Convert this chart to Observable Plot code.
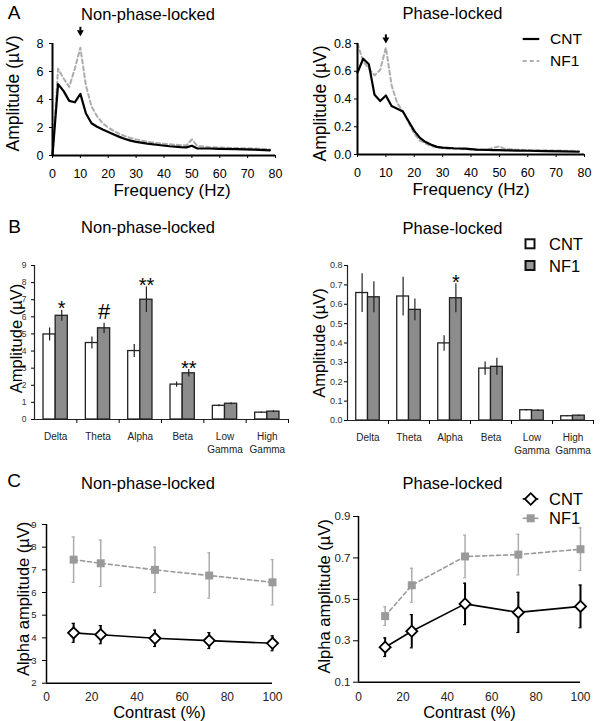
<!DOCTYPE html>
<html><head><meta charset="utf-8">
<script src="https://cdn.jsdelivr.net/npm/d3@7"></script>
<script src="https://cdn.jsdelivr.net/npm/@observablehq/plot@0.6"></script>
<style>
body{margin:0;background:#fff;}
#root{position:relative;width:600px;height:721px;font-family:"Liberation Sans",Arial,sans-serif;color:#000;overflow:hidden;background:#fff}
.t{position:absolute;white-space:nowrap;line-height:1;transform:translate(-50%,-50%)}
.lg{position:absolute;white-space:nowrap;line-height:1;transform:translateY(-50%)}
svg.leg{position:absolute;overflow:visible}
</style></head><body><div id="root"></div>
<script>
// ---------- Panel A: spectra ----------
const freq   = [0, 2, 4, 6, 8, 10, 12, 14, 16, 18, 20, 22, 24, 26, 28, 30, 34, 38, 42, 46, 48, 50, 52, 56, 60, 66, 72, 78];
const nplCnt = [0, 5.1, 4.6, 3.9, 3.8, 4.4, 3.0, 2.3, 2.05, 1.85, 1.68, 1.5, 1.33, 1.18, 1.06, 0.97, 0.85, 0.75, 0.66, 0.6, 0.58, 0.7, 0.5, 0.5, 0.48, 0.45, 0.42, 0.37];
const nplNf1 = [0, 6.2, 5.5, 4.9, 6.2, 7.7, 5.0, 3.5, 2.8, 2.3, 2.0, 1.75, 1.55, 1.38, 1.25, 1.15, 0.98, 0.88, 0.8, 0.74, 0.72, 1.15, 0.68, 0.6, 0.57, 0.53, 0.5, 0.45];
const plCnt  = [0.59, 0.69, 0.65, 0.43, 0.385, 0.425, 0.35, 0.33, 0.31, 0.24, 0.17, 0.12, 0.09, 0.07, 0.055, 0.05, 0.045, 0.042, 0.035, 0.033, 0.032, 0.031, 0.03, 0.028, 0.027, 0.025, 0.022, 0.02];
const plNf1  = [0.8, 0.67, 0.62, 0.57, 0.61, 0.77, 0.5, 0.37, 0.31, 0.23, 0.15, 0.1, 0.08, 0.06, 0.05, 0.045, 0.04, 0.038, 0.035, 0.035, 0.05, 0.058, 0.04, 0.035, 0.032, 0.03, 0.028, 0.025];
const alphaPeak = [10];

// ---------- Panel B: band amplitudes ----------
const bands = ["Delta", "Theta", "Alpha", "Beta", "Low\nGamma", "High\nGamma"];
const barNplCnt    = [4.97, 4.47, 4.0, 2.04, 0.8, 0.4];
const barNplCntErr = [0.38, 0.35, 0.38, 0.15, 0.06, 0.04];
const barNplNf1    = [6.06, 5.33, 7.0, 2.7, 0.92, 0.46];
const barNplNf1Err = [0.32, 0.3, 0.75, 0.22, 0.06, 0.06];
const barPlCnt     = [0.658, 0.64, 0.398, 0.268, 0.053, 0.022];
const barPlCntErr  = [0.1, 0.1, 0.04, 0.034, 0.004, 0.003];
const barPlNf1     = [0.636, 0.571, 0.631, 0.277, 0.051, 0.025];
const barPlNf1Err  = [0.08, 0.056, 0.075, 0.044, 0.004, 0.004];
const sigNpl = ["*", "#", "**", "**", "", ""];
const sigPl  = ["", "", "*", "", "", ""];

// ---------- Panel C: alpha vs contrast ----------
const contrast = [12, 24, 48, 72, 100];
const alphaNplCnt    = [4.22, 4.14, 3.98, 3.88, 3.76];
const alphaNplCntErr = [0.42, 0.4, 0.36, 0.35, 0.33];
const alphaNplNf1    = [7.45, 7.29, 7.0, 6.75, 6.45];
const alphaNplNf1Err = [1.0, 1.02, 1.0, 1.0, 1.0];
const alphaPlCnt     = [0.269, 0.346, 0.478, 0.437, 0.466];
const alphaPlCntErr  = [0.045, 0.08, 0.1, 0.097, 0.103];
const alphaPlNf1     = [0.419, 0.568, 0.707, 0.716, 0.742];
const alphaPlNf1Err  = [0.045, 0.082, 0.103, 0.098, 0.103];

// ---------- helpers ----------
const root = document.getElementById("root");
const FONT = '"Liberation Sans", Arial, Helvetica, sans-serif';
const baseStyle = {fontFamily: FONT, fontSize: "12px", background: "transparent", overflow: "visible", color: "#000"};
const GRAY_LINE = "#acacac";
const GRAY_BAR = "#8c8c8c";
const GRAY_PT = "#9a9a9a";

function place(el, left, top) {
  el.style.position = "absolute";
  el.style.left = left + "px";
  el.style.top = top + "px";
  root.appendChild(el);
}
function label(text, cx, cy, size) {
  const d = document.createElement("div");
  d.className = "t";
  d.textContent = text;
  d.style.left = cx + "px"; d.style.top = cy + "px"; d.style.fontSize = size + "px";
  root.appendChild(d);
}
function legText(text, x, cy, size) {
  const d = document.createElement("div");
  d.className = "lg";
  d.textContent = text;
  d.style.left = x + "px"; d.style.top = cy + "px"; d.style.fontSize = size + "px";
  root.appendChild(d);
}
function legSvg(x, y, w, h, inner) {
  const ns = "http://www.w3.org/2000/svg";
  const s = document.createElementNS(ns, "svg");
  s.setAttribute("class", "leg");
  s.setAttribute("width", w); s.setAttribute("height", h);
  s.style.left = x + "px"; s.style.top = y + "px";
  s.innerHTML = inner;
  root.appendChild(s);
}
// axis titles placed relative to the frame
function xTitle(text, dx, dy, size) {
  return Plot.text([text], {text: d => d, frameAnchor: "bottom", textAnchor: "middle", lineAnchor: "middle", dx, dy, fontSize: size});
}
function yTitle(text, dx, dy, size) {
  return Plot.text([text], {text: d => d, frameAnchor: "left", textAnchor: "middle", lineAnchor: "middle", rotate: -90, dx, dy, fontSize: size});
}

// ---------- A ----------
function spectrum(cnt, nf1, o) {
  const rows = freq.map((f, i) => ({f, cnt: cnt[i], nf1: nf1[i]}));
  return Plot.plot({
    width: 300, height: 200,
    marginLeft: o.ml, marginRight: o.mr, marginTop: 43, marginBottom: o.mb,
    style: baseStyle,
    x: {domain: [0, 80]},
    y: {domain: [0, o.yMax]},
    marks: [
      Plot.lineY(rows, {x: "f", y: "nf1", stroke: GRAY_LINE, strokeWidth: 2, strokeDasharray: "4,3"}),
      Plot.lineY(rows, {x: "f", y: "cnt", stroke: "#000", strokeWidth: 2.2}),
      Plot.ruleY([0], {strokeWidth: 2}),
      Plot.ruleX([0], {strokeWidth: 2}),
      Plot.axisX({ticks: d3.range(0, 81, 10), tickSize: 3, tickPadding: 11, fontSize: 12.5, label: null}),
      Plot.axisY({ticks: o.ticks, tickFormat: o.fmt, tickSize: 3, tickPadding: o.tp, fontSize: 12.5, label: null}),
      xTitle("Frequency (Hz)", o.xlDx, 35, 17),
      yTitle("Amplitude (µV)", o.ylDx, o.ylDy, 17.5),
      Plot.ruleX(alphaPeak, {x: d => d, y1: () => o.arrowTop, y2: () => o.arrowHead, strokeWidth: 2}),
      Plot.dot(alphaPeak, {x: d => d, y: () => o.arrowHead, symbol: "triangle2", rotate: 180, r: 3.3, fill: "#000"})
    ]
  });
}
place(spectrum(nplCnt, nplNf1, {ml: 52, mr: 25, mb: 45, yMax: 8, ticks: [0, 2, 4, 6, 8], fmt: d3.format("d"), tp: 6,
  xlDx: 8, ylDx: -39.5, ylDy: -6, arrowTop: 9.16, arrowHead: 8.8}), 0, 0);
place(spectrum(plCnt, plNf1, {ml: 57, mr: 16, mb: 46, yMax: 0.8, ticks: [0, 0.2, 0.4, 0.6, 0.8], fmt: d3.format(".1f"), tp: 3,
  xlDx: 0, ylDx: -37.5, ylDy: 4.5, arrowTop: 0.862, arrowHead: 0.828}), 300, 0);

// ---------- B ----------
function bars(cnt, cntErr, nf1, nf1Err, sig, o) {
  const rows = bands.map((b, i) => ({i, b, cnt: cnt[i], cntErr: cntErr[i], nf1: nf1[i], nf1Err: nf1Err[i], sig: sig[i]}));
  const a = 0.213, m = 0.5, z = 0.787; // bar edges as fractions of a category slot
  return Plot.plot({
    width: 300, height: 260,
    marginLeft: o.ml, marginRight: o.mr, marginTop: 65, marginBottom: o.mb,
    style: baseStyle,
    x: {domain: [0, bands.length]},
    y: {domain: [0, o.yMax]},
    marks: [
      Plot.rectY(rows, {x1: d => d.i + a, x2: d => d.i + m, y1: () => 0, y2: "cnt", fill: "#fff", stroke: "#222", strokeWidth: 1.3}),
      Plot.rectY(rows, {x1: d => d.i + m, x2: d => d.i + z, y1: () => 0, y2: "nf1", fill: GRAY_BAR, stroke: "#222", strokeWidth: 1.3}),
      Plot.ruleX(rows, {x: d => d.i + (a + m) / 2, y1: d => d.cnt - d.cntErr, y2: d => d.cnt + d.cntErr, stroke: "#222", strokeWidth: 1.2}),
      Plot.ruleX(rows, {x: d => d.i + (m + z) / 2, y1: d => d.nf1 - d.nf1Err, y2: d => d.nf1 + d.nf1Err, stroke: "#222", strokeWidth: 1.2}),
      Plot.text(rows.filter(d => d.sig === "#"), {x: d => d.i + (m + z) / 2, y: d => d.nf1 + d.nf1Err, text: "sig", lineAnchor: "bottom", dy: -4, fontSize: 22}),
      Plot.text(rows.filter(d => d.sig && d.sig !== "#"), {x: d => d.i + (m + z) / 2, y: d => d.nf1 + d.nf1Err, text: "sig", lineAnchor: "bottom", dy: 5, fontSize: 20}),
      Plot.ruleY([0], {stroke: "#222", strokeWidth: 1.2}),
      Plot.ruleX([0], {stroke: "#222", strokeWidth: 1.2}),
      Plot.axisY({ticks: o.ticks, tickFormat: o.fmt, tickSize: 3, tickPadding: o.tp, fontSize: o.tfs, label: null, fill: "#333"}),
      Plot.axisX({ticks: d3.range(1, bands.length + 1), tickFormat: () => "", tickSize: 4, label: null}),
      Plot.text(rows, {x: d => d.i + 0.5, y: () => 0, text: "b", lineAnchor: "top", lineHeight: 1.3, dy: 11.5, fontSize: 10, fill: "#222"}),
      yTitle("Amplitude (µV)", o.ylDx, o.ylDy, 16.5)
    ]
  });
}
place(bars(barNplCnt, barNplCntErr, barNplNf1, barNplNf1Err, sigNpl,
  {ml: 34, mr: 12, mb: 41, yMax: 9, ticks: d3.range(0, 10), fmt: d3.format("d"), tp: 5, tfs: 8.5, ylDx: -18, ylDy: -4}), 0, 200);
place(bars(barPlCnt, barPlCntErr, barPlNf1, barPlNf1Err, sigPl,
  {ml: 47, mr: 7, mb: 40, yMax: 0.8, ticks: d3.range(0, 9).map(d => d / 10), fmt: d3.format(".1f"), tp: 2, tfs: 9, ylDx: -27.5, ylDy: 0}), 300, 200);

// ---------- C ----------
function alpha(cnt, cntErr, nf1, nf1Err, o) {
  const rows = contrast.map((c, i) => ({c, cnt: cnt[i], cntErr: cntErr[i], nf1: nf1[i], nf1Err: nf1Err[i]}));
  return Plot.plot({
    width: 300, height: 261,
    marginLeft: o.ml, marginRight: o.mr, marginTop: o.mt, marginBottom: o.mb,
    style: baseStyle,
    x: {domain: [0, 100]},
    y: {domain: o.yDomain},
    marks: [
      Plot.ruleX(rows, {x: "c", y1: d => d.nf1 - d.nf1Err, y2: d => d.nf1 + d.nf1Err, stroke: GRAY_LINE, strokeWidth: 1.5}),
      Plot.ruleY(rows, {x1: "c", x2: "c", y: d => d.nf1 - d.nf1Err, insetLeft: -1.5, insetRight: -1.5, stroke: GRAY_LINE, strokeWidth: 1.2}),
      Plot.ruleY(rows, {x1: "c", x2: "c", y: d => d.nf1 + d.nf1Err, insetLeft: -1.5, insetRight: -1.5, stroke: GRAY_LINE, strokeWidth: 1.2}),
      Plot.lineY(rows, {x: "c", y: "nf1", stroke: GRAY_PT, strokeWidth: 1.6, strokeDasharray: "4,3"}),
      Plot.dot(rows, {x: "c", y: "nf1", symbol: "square", r: 4.5, fill: GRAY_PT}),
      Plot.ruleX(rows, {x: "c", y1: d => d.cnt - d.cntErr, y2: d => d.cnt + d.cntErr, stroke: "#000", strokeWidth: 2}),
      Plot.ruleY(rows, {x1: "c", x2: "c", y: d => d.cnt - d.cntErr, insetLeft: -1.5, insetRight: -1.5, stroke: "#000", strokeWidth: 1.2}),
      Plot.ruleY(rows, {x1: "c", x2: "c", y: d => d.cnt + d.cntErr, insetLeft: -1.5, insetRight: -1.5, stroke: "#000", strokeWidth: 1.2}),
      Plot.lineY(rows, {x: "c", y: "cnt", stroke: "#000", strokeWidth: 1.6}),
      Plot.dot(rows, {x: "c", y: "cnt", symbol: "diamond2", r: 5, fill: "#fff", stroke: "#000", strokeWidth: 1.8}),
      Plot.ruleY([o.yDomain[0]], {stroke: "#000", strokeWidth: 1.5}),
      Plot.ruleX([0], {stroke: "#000", strokeWidth: 1.5}),
      Plot.axisX({ticks: d3.range(0, 101, 20), tickSize: 0, tickPadding: o.xtp, fontSize: 12, label: null, fill: "#222"}),
      Plot.axisY({ticks: o.ticks, tickFormat: o.fmt, tickSize: o.ts, tickPadding: o.tp, fontSize: o.tfs, label: null, fill: "#222"}),
      xTitle("Contrast (%)", 0, o.xlDy, 16.5),
      yTitle("Alpha amplitude (µV)", o.ylDx, o.ylDy, 16.5)
    ]
  });
}
place(alpha(alphaNplCnt, alphaNplCntErr, alphaNplNf1, alphaNplNf1Err,
  {ml: 46, mr: 28, mt: 64, mb: 38.3, yDomain: [2, 9], ticks: d3.range(2, 10), fmt: d3.format("d"), ts: 4, tp: 6, tfs: 9.5, xtp: 9,
   xlDy: 30, ylDx: -23, ylDy: -5}), 0, 460);
place(alpha(alphaPlCnt, alphaPlCntErr, alphaPlNf1, alphaPlNf1Err,
  {ml: 58, mr: 20, mt: 56, mb: 39.3, yDomain: [0.1, 0.9], ticks: [0.1, 0.3, 0.5, 0.7, 0.9], fmt: d3.format(".1f"), ts: 5, tp: 3, tfs: 11.5, xtp: 10,
   xlDy: 31, ylDx: -33.5, ylDy: -3}), 300, 460);

// ---------- titles and panel letters ----------
label("A", 14, 12, 19);
label("B", 14.5, 225.5, 19);
label("C", 14, 480, 19);
label("Non-phase-locked", 148, 14, 16.5);
label("Phase-locked", 452.5, 13, 16.5);
label("Non-phase-locked", 148, 227, 16.5);
label("Phase-locked", 452.5, 228, 16.5);
label("Non-phase-locked", 148, 482.5, 16.5);
label("Phase-locked", 452.5, 483, 16.5);

// ---------- legends ----------
legSvg(520, 30, 24, 40,
  `<line x1="2.7" x2="19.3" y1="9" y2="9" stroke="#000" stroke-width="2.2"/>` +
  `<line x1="2.7" x2="19.3" y1="31" y2="31" stroke="${GRAY_LINE}" stroke-width="2" stroke-dasharray="4,3"/>`);
legText("CNT", 550, 39, 15.5);
legText("NF1", 550, 61, 15.5);

legSvg(520, 234, 24, 44,
  `<rect x="5.5" y="5.3" width="9" height="9" fill="#fff" stroke="#111" stroke-width="2"/>` +
  `<rect x="5.5" y="27" width="9" height="9" fill="#999" stroke="#111" stroke-width="2"/>`);
legText("CNT", 549, 244.3, 16.5);
legText("NF1", 549, 266, 16.5);

legSvg(518, 489, 26, 40,
  `<line x1="4.7" x2="20.3" y1="10" y2="10" stroke="#000" stroke-width="1.6"/>` +
  `<path d="M12.7,4.2 L18.5,10 L12.7,15.8 L6.9,10 Z" fill="#fff" stroke="#000" stroke-width="1.8"/>` +
  `<line x1="4.7" x2="20.3" y1="29.3" y2="29.3" stroke="${GRAY_PT}" stroke-width="1.6"/>` +
  `<rect x="8.7" y="25.3" width="8" height="8" fill="${GRAY_PT}"/>`);
legText("CNT", 549, 499, 16.5);
legText("NF1", 549, 518.3, 16.5);
</script></body></html>
